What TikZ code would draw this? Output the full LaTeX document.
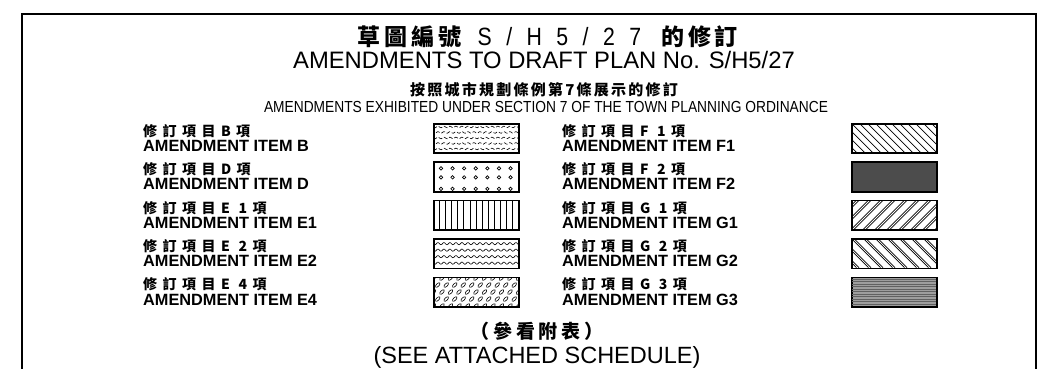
\documentclass[tikz,border=0pt]{standalone}
\usepackage{fontspec}
\usepackage{graphicx}
\setmainfont{Liberation Sans}
\newfontfamily\cjk{Noto Sans CJK TC}
\newfontfamily\cjkls[LetterSpace=39]{Noto Sans CJK TC}
\newfontfamily\cjkbot[LetterSpace=20]{Noto Sans CJK TC}
\newfontfamily\cjksub[LetterSpace=15]{Noto Sans CJK TC}
\newfontfamily\cjktitle[LetterSpace=17]{Noto Sans CJK TC}
\begin{document}
\begin{tikzpicture}[x=1pt,y=-1pt,
  swatch/.style={draw, line width=1.1pt, minimum width=85pt, minimum height=29pt, inner sep=0pt},
  cnlab/.style={anchor=base west, inner sep=0pt, font=\cjkls\bfseries\fontsize{14}{14}\selectfont},
  enlab/.style={anchor=base west, inner sep=0pt, font=\bfseries\fontsize{16.3}{16.3}\selectfont},
  hatch/.style={line width=0.7pt},
  centre/.style={anchor=base, inner sep=0pt}]
\useasboundingbox (0,0) rectangle (1052,369);
% frame
\draw[line width=2.4pt] (22,369) -- (22,14) -- (1036,14) -- (1036,369);
% titles
\node[centre] (t1) at (548,46) {{\cjktitle\bfseries\fontsize{23}{23}\selectfont 草圖編號}\hspace{16pt}{\fontsize{25}{25}\selectfont\scalebox{0.85}[1]{S\hspace{17pt}/\hspace{17pt}H\hspace{17pt}5\hspace{17pt}/\hspace{17pt}2\hspace{17pt}7}}\hspace{20pt}{\cjktitle\bfseries\fontsize{23}{23}\selectfont 的修訂}};
\node[centre, font=\fontsize{23.8}{23.8}\selectfont] (t2) at (544,68) {AMENDMENTS TO DRAFT PLAN No. S/H5/27};
\node[centre, font=\cjksub\bfseries\fontsize{15}{15}\selectfont] (t3) at (544,95.5) {按照城市規劃條例第7條展示的修訂};
\node[centre] (t4) at (546,112) {\fontsize{16}{16}\selectfont\scalebox{0.86}[1]{AMENDMENTS EXHIBITED UNDER SECTION 7 OF THE TOWN PLANNING ORDINANCE}};
% rows
\foreach \yc/\nm/\cl/\el/\cr/\er in {138.5/1/B/B/F 1/F1, 176.9/2/D/D/F 2/F2, 215.3/3/E 1/E1/G 1/G1, 253.7/4/E 2/E2/G 2/G2, 292.1/5/E 4/E4/G 3/G3}{
  \node[cnlab] (lc\nm) at (143,\yc-2.2) {修訂項目\cl 項};
  \node[enlab] (le\nm) at (143,\yc+13) {AMENDMENT ITEM \el};
  \node[cnlab] (rc\nm) at (562,\yc-2.2) {修訂項目\cr 項};
  \node[enlab] (re\nm) at (562,\yc+13) {AMENDMENT ITEM \er};
}
% swatches
\node[swatch] (sB) at (476.5,138.5) {};
\node[swatch] (sD) at (476.5,176.9) {};
\node[swatch] (sE1) at (476.5,215.3) {};
\node[swatch] (sE2) at (476.5,253.7) {};
\node[swatch] (sE4) at (476.5,292.1) {};
\node[swatch] (sF1) at (894.5,138.5) {};
\node[swatch, fill=black!70] (sF2) at (894.5,176.9) {};
\node[swatch] (sG1) at (894.5,215.3) {};
\node[swatch] (sG2) at (894.5,253.7) {};
\node[swatch, fill=black!38] (sG3) at (894.5,292.1) {};
% B: rows of short wavy dashes
\begin{scope}[shift={(sB.north west)}]
  \clip (0,0) rectangle (85,29);
  \foreach \yy/\ph in {3.5/0,9/3,14.5/0,20/3,25.5/0}
    \draw[line width=0.6pt, dash pattern=on 4pt off 2pt, dash phase=\ph pt] plot[domain=0:85,samples=100,smooth] (\x,{\yy+0.8*sin(\x*60)});
\end{scope}
% D: small circles
\begin{scope}[shift={(sD.north west)}]
  \clip (0,0) rectangle (85,29);
  \foreach \i in {0,...,6} \foreach \yy in {6.5,15.5,27}
    \draw[line width=0.7pt] (7.5+11.6*\i,\yy) circle (1.7);
\end{scope}
% E1: vertical lines
\begin{scope}[shift={(sE1.north west)}]
  \clip (0,0) rectangle (85,29);
  \foreach \i in {1,...,13} \draw[hatch] (6.07*\i,0) -- (6.07*\i,29);
\end{scope}
% E2: wavy lines
\begin{scope}[shift={(sE2.north west)}]
  \clip (0,0) rectangle (85,29);
  \foreach \yy in {5,11.5,18,24.5}
    \draw[line width=0.6pt] plot[domain=0:85,samples=120,smooth] (\x,{\yy+1.1*sin(\x*60)});
\end{scope}
% E4: chequer plate
\begin{scope}[shift={(sE4.north west)}]
  \clip (0,0) rectangle (85,29);
  \foreach \j in {0,...,4} \foreach \i in {0,...,10} {
    \pgfmathsetmacro\ex{8.5*\i+4.25*mod(\j,2)}
    \pgfmathsetmacro\ey{1+7*\j}
    \draw[line width=0.6pt, rotate around={45:(\ex,\ey)}] (\ex,\ey) ellipse (2.9 and 1.4);
  }
\end{scope}
% F1: thin diagonal lines
\begin{scope}[shift={(sF1.north west)}]
  \clip (0,0) rectangle (85,29);
  \foreach \i in {-4,...,11} \draw[hatch] (8*\i,0) -- (8*\i+29,29);
\end{scope}
% G1: double diagonal lines /
\begin{scope}[shift={(sG1.north west)}]
  \clip (0,0) rectangle (85,29);
  \foreach \i in {-3,...,8} {
    \draw[hatch] (12*\i,29) -- (12*\i+29,0);
    \draw[hatch] (12*\i+2.6,29) -- (12*\i+31.6,0);
  }
\end{scope}
% G2: double diagonal lines \
\begin{scope}[shift={(sG2.north west)}]
  \clip (0,0) rectangle (85,29);
  \foreach \i in {-3,...,8} {
    \draw[hatch] (12*\i,0) -- (12*\i+29,29);
    \draw[hatch] (12*\i+2.6,0) -- (12*\i+31.6,29);
  }
\end{scope}
% G3: horizontal lines on grey
\begin{scope}[shift={(sG3.north west)}]
  \clip (0,0) rectangle (85,29);
  \foreach \yy in {2,4.5,...,28} \draw[black!62, line width=0.8pt] (0,\yy) -- (85,\yy);
\end{scope}
% redraw borders
\foreach \s in {sB,sD,sE1,sE2,sE4,sF1,sF2,sG1,sG2,sG3}
  \draw[line width=1.1pt] (\s.north west) rectangle (\s.south east);
% bottom
\node[centre, font=\cjkbot\bfseries\fontsize{19}{19}\selectfont] (b1) at (537,338) {（參看附表）};
\node[centre, font=\fontsize{23.5}{23.5}\selectfont] (b2) at (537,363) {(SEE ATTACHED SCHEDULE)};
\end{tikzpicture}
\end{document}
